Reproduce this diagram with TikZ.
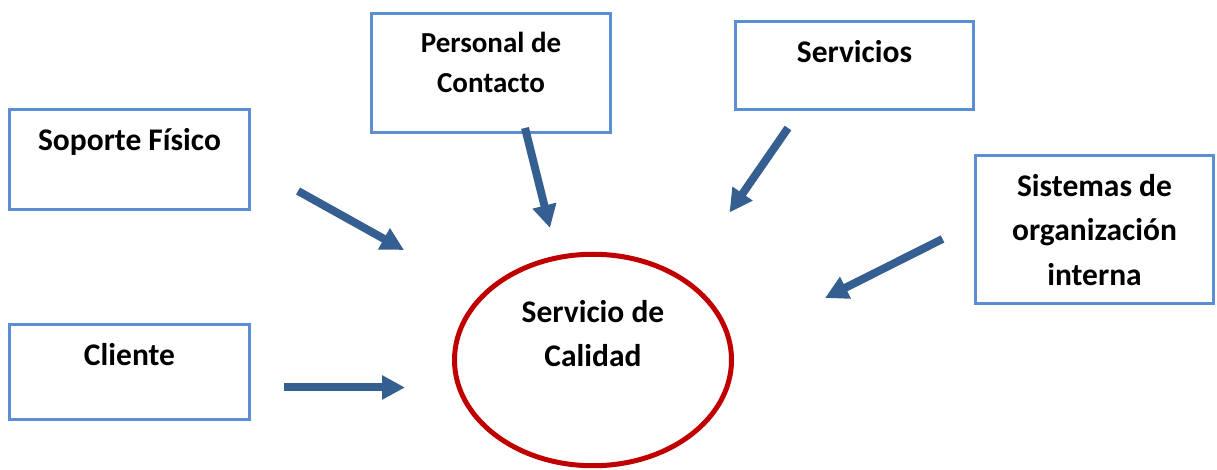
\documentclass[tikz,border=0pt]{standalone}
\usepackage{fontspec}
\setmainfont{Carlito}
\usetikzlibrary{arrows.meta,shapes.geometric}
\definecolor{FrameBlue}{HTML}{5B8ED3}
\definecolor{ArrowBlue}{HTML}{365F91}
\definecolor{RingRed}{HTML}{C00000}
\tikzset{
  factor/.style={draw=FrameBlue, line width=1.5pt, rectangle, align=center,
    inner xsep=0pt, inner ysep=0pt, text height=20.5pt, minimum width=120pt,
    font=\bfseries\fontsize{15.75}{22}\selectfont},
  quality/.style={draw=RingRed, line width=2.5pt, ellipse, align=center,
    inner sep=0pt, minimum width=138.5pt, minimum height=105.75pt,
    font=\bfseries\fontsize{15.75}{22}\selectfont},
  push/.style={-{Triangle[length=11.5pt,width=11.5pt]}, line width=4pt, draw=ArrowBlue}
}

\begin{document}
\begin{tikzpicture}[x=0.5pt, y=-0.5pt]
  \useasboundingbox (0,0) rectangle (1217,470);
  \node[factor, text depth=29.5pt] (soporte) at (129.5,159.5) {Soporte Físico};
  \node[factor, text height=39.5pt, text depth=20pt, minimum width=119.5pt,
    font=\bfseries\fontsize{14.5}{20}\selectfont] (personal) at (491,73) {Personal de\\Contacto};
  \node[factor, text depth=23.5pt, minimum width=119pt] (servicios) at (854.5,65.5) {Servicios};
  \node[factor, text height=65pt, text depth=9pt, minimum width=119pt,
    font=\bfseries\fontsize{15.75}{22.25}\selectfont] (sistemas) at (1094.5,229.5) {Sistemas de\\organización\\interna};
  \node[factor, text depth=27pt] (cliente) at (129.5,372) {Cliente};
  \node[quality, text height=40pt, text depth=33pt] (calidad) at (593,360) {Servicio de\\Calidad};
  % free arrows towards the ellipse
  \coordinate (sopA) at (298,191);   \coordinate (sopB) at (404,250);
  \coordinate (perA) at (525,128);   \coordinate (perB) at (550,228);
  \coordinate (serA) at (788,128);   \coordinate (serB) at (729.5,212.5);
  \coordinate (sisA) at (942.5,239); \coordinate (sisB) at (825,298);
  \coordinate (cliA) at (283.5,387.5); \coordinate (cliB) at (405,387.5);
  \draw[push] (sopA) -- (sopB);
  \draw[push] (perA) -- (perB);
  \draw[push] (serA) -- (serB);
  \draw[push] (sisA) -- (sisB);
  \draw[push] (cliA) -- (cliB);
\end{tikzpicture}
\end{document}
